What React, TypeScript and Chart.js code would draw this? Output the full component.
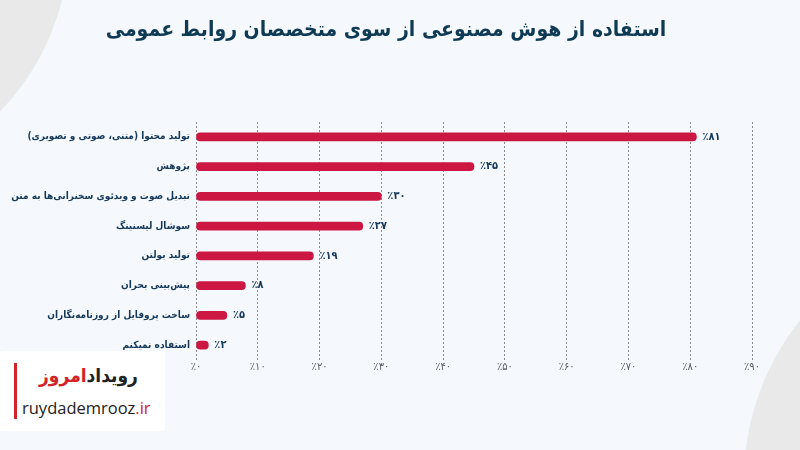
import React, { useEffect, useRef } from "react";
import { Chart, registerables } from "chart.js";

Chart.register(...registerables);

const TITLE = "استفاده از هوش مصنوعی از سوی متخصصان روابط عمومی";
const categories = [
  "تولید محتوا (متنی، صوتی و تصویری)",
  "پژوهش",
  "تبدیل صوت و ویدئوی سخنرانی‌ها به متن",
  "سوشال لیسنینگ",
  "تولید بولتن",
  "پیش‌بینی بحران",
  "ساخت پروفایل از روزنامه‌نگاران",
  "استفاده نمیکنم",
];
const values = [81, 45, 30, 27, 19, 8, 5, 2];
const xMin = 0;
const xMax = 90;
const xStep = 10;

const FONT = "'DejaVu Sans Condensed', 'DejaVu Sans', sans-serif";
const NAVY = "#14395a";
const BAR = "#cc1742";

const toFa = (n: number) => String(n).replace(/\d/g, (d) => "۰۱۲۳۴۵۶۷۸۹"[+d]);
const pct = (n: number) => "٪" + toFa(n);

const bgPlugin = {
  id: "bg",
  beforeDraw(chart: any) {
    const ctx = chart.ctx;
    ctx.save();
    ctx.fillStyle = "#f5f8fc";
    ctx.fillRect(0, 0, chart.width, chart.height);
    ctx.fillStyle = "#e9e9ea";
    ctx.beginPath();
    ctx.arc(-180, -62, 250, 0, Math.PI * 2);
    ctx.fill();
    ctx.beginPath();
    ctx.arc(1000, 480, 256, 0, Math.PI * 2);
    ctx.fill();
    ctx.fillStyle = "#0f3a55";
    ctx.font = `bold 21px ${FONT}`;
    ctx.textAlign = "center";
    ctx.textBaseline = "middle";
    ctx.fillText(TITLE, 386, 31);
    ctx.restore();
  },
};

const valuePlugin = {
  id: "vals",
  afterDatasetsDraw(chart: any) {
    const ctx = chart.ctx;
    const meta = chart.getDatasetMeta(0);
    ctx.save();
    ctx.fillStyle = NAVY;
    ctx.font = `bold 11px ${FONT}`;
    ctx.textAlign = "left";
    ctx.textBaseline = "middle";
    meta.data.forEach((el: any, i: number) => {
      ctx.fillText(pct(values[i]), el.x + 6, el.y);
    });
    ctx.restore();
  },
};

export default function App() {
  const ref = useRef<HTMLCanvasElement>(null);
  useEffect(() => {
    if (!ref.current) return;
    const chart = new Chart(ref.current, {
      type: "bar",
      data: {
        labels: categories,
        datasets: [
          {
            data: values,
            backgroundColor: BAR,
            barThickness: 8,
            borderRadius: 4,
            borderSkipped: false,
          },
        ],
      },
      options: {
        indexAxis: "y",
        animation: false,
        responsive: false,
        devicePixelRatio: 1,
        layout: { padding: { top: 122, right: 48, bottom: 70, left: 0 } },
        plugins: { legend: { display: false }, tooltip: { enabled: false } },
        scales: {
          x: {
            min: xMin,
            max: xMax,
            ticks: {
              stepSize: xStep,
              callback: (v: any) => pct(Number(v)),
              color: "#5e5e5e",
              font: { family: FONT, size: 11 },
              padding: 1,
              maxRotation: 0,
            },
            grid: { color: "#8c8c8c", lineWidth: 1, drawTicks: false },
            border: { display: false, dash: [2, 2] },
            afterFit: (s: any) => {
              s.height = 20;
            },
          },
          y: {
            grid: { display: false, drawTicks: false },
            border: { display: false },
            ticks: {
              color: NAVY,
              font: { family: FONT, size: 10, weight: "bold" },
              padding: 6,
            },
            afterFit: (s: any) => {
              s.width = 196;
            },
          },
        },
      } as any,
      plugins: [bgPlugin, valuePlugin],
    });
    return () => chart.destroy();
  }, []);

  return (
    <div style={{ position: "fixed", left: 0, top: 0, width: 800, height: 450, overflow: "hidden" }}>
      <canvas ref={ref} width={800} height={450} style={{ direction: "rtl", display: "block" }} />
      <div
        style={{
          position: "absolute",
          left: 0,
          top: 351,
          width: 165,
          height: 80,
          background: "#ffffff",
          borderRadius: 3,
        }}
      >
        <div style={{ position: "absolute", left: 14, top: 12, width: 3, height: 56, background: "#d2232a" }} />
        <div
          style={{
            position: "absolute",
            left: 36,
            top: 10,
            width: 105,
            textAlign: "center",
            direction: "rtl",
            fontFamily: FONT,
            fontWeight: "bold",
            fontSize: 19,
            lineHeight: "28px",
            whiteSpace: "nowrap",
          }}
        >
          <span style={{ color: "#222" }}>رویداد</span>
          <span style={{ color: "#d2232a" }}>امروز</span>
        </div>
        <div
          style={{
            position: "absolute",
            left: 22,
            top: 45,
            fontFamily: "'Open Sans', sans-serif",
            fontSize: 16.5,
            lineHeight: "24px",
            color: "#222",
            whiteSpace: "nowrap",
            letterSpacing: 0,
          }}
        >
          ruydademrooz<span style={{ color: "#d2232a" }}>.ir</span>
        </div>
      </div>
    </div>
  );
}
